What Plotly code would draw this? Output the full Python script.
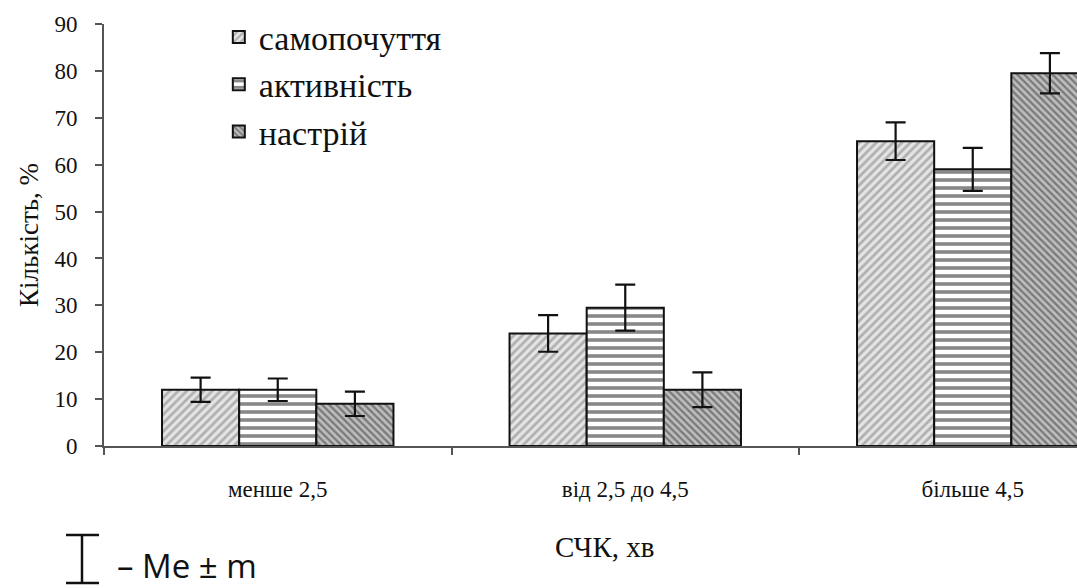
import plotly.graph_objects as go

categories = ["менше 2,5", "від 2,5 до 4,5", "більше 4,5"]
series_names = ["самопочуття", "активність", "настрій"]
samopochuttia = [12, 24, 65]
samopochuttia_err = [2.6, 3.9, 4.0]
aktyvnist = [12, 29.5, 59]
aktyvnist_err = [2.4, 4.9, 4.6]
nastrii = [9, 12, 79.5]
nastrii_err = [2.6, 3.7, 4.3]

values = [samopochuttia, aktyvnist, nastrii]
errors = [samopochuttia_err, aktyvnist_err, nastrii_err]
patterns = [
    dict(shape="/", fgcolor="#7a7a7a", bgcolor="#e4e4e4", size=6, solidity=0.45),
    dict(shape="-", fgcolor="#111111", bgcolor="#ffffff", size=8, solidity=0.45),
    dict(shape="\\", fgcolor="#333333", bgcolor="#bdbdbd", size=5, solidity=0.45),
]

fig = go.Figure()
for name, vals, errs, pat in zip(series_names, values, errors, patterns):
    fig.add_trace(go.Bar(
        x=categories, y=vals, name=name,
        marker=dict(color=pat["bgcolor"], pattern=pat,
                    line=dict(color="#111111", width=2)),
        error_y=dict(type="data", array=errs, visible=True,
                     color="#111111", thickness=2.2, width=10),
    ))

serif = "Liberation Serif, Times New Roman, serif"
fig.update_layout(
    width=1077, height=588,
    margin=dict(l=104, r=0, t=24, b=142),
    paper_bgcolor="white", plot_bgcolor="white",
    barmode="group", bargap=0.334, bargroupgap=0,
    font=dict(family=serif, color="#111111"),
    legend=dict(x=0.118, y=1.037, xanchor="left", yanchor="top",
                font=dict(family=serif, size=34, color="#111111"),
                bgcolor="rgba(0,0,0,0)", tracegroupgap=0, itemwidth=30),
    showlegend=True,
)
fig.update_xaxes(
    type="category", range=[-0.5, 2.3],
    showline=True, linecolor="#555555", linewidth=2,
    ticks="outside", tickson="boundaries", ticklen=7, tickcolor="#555555", tickwidth=2,
    tickfont=dict(family=serif, size=23, color="#111111"), ticklabelstandoff=21,
    showgrid=False, zeroline=False,
)
fig.update_yaxes(
    range=[0, 90], dtick=10,
    showline=True, linecolor="#555555", linewidth=2,
    ticks="outside", ticklen=7, tickcolor="#555555", tickwidth=2,
    tickfont=dict(family=serif, size=23, color="#111111"), ticklabelstandoff=13,
    showgrid=False, zeroline=False,
    title=dict(text="Кількість, %", font=dict(family=serif, size=27, color="#111111"), standoff=8),
)

# paper coords from pixels
def px(xp):
    return (xp - 104) / 973
def py(yp):
    return (446 - yp) / 422

# x-axis title
fig.add_annotation(text="СЧК, хв", xref="paper", yref="paper", x=px(605), y=py(547),
                   xanchor="center", yanchor="middle",
                   showarrow=False, font=dict(family=serif, size=29, color="#111111"))

# legend for error bars: I-beam glyph + text
fig.add_annotation(text="– Me ± m", xref="paper", yref="paper", x=px(116), y=py(565),
                   xanchor="left", yanchor="middle", showarrow=False, borderpad=0,
                   font=dict(family="Open Sans, Noto Sans, sans-serif", size=33, color="#111111"))
beam = dict(type="line", xref="paper", yref="paper", line=dict(color="#111111", width=2.5))
fig.add_shape(**beam, x0=px(82), x1=px(82), y0=py(535), y1=py(583))
fig.add_shape(**beam, x0=px(66), x1=px(99), y0=py(535), y1=py(535))
fig.add_shape(**beam, x0=px(66), x1=px(99), y0=py(583), y1=py(583))

fig.write_html("out.html")
